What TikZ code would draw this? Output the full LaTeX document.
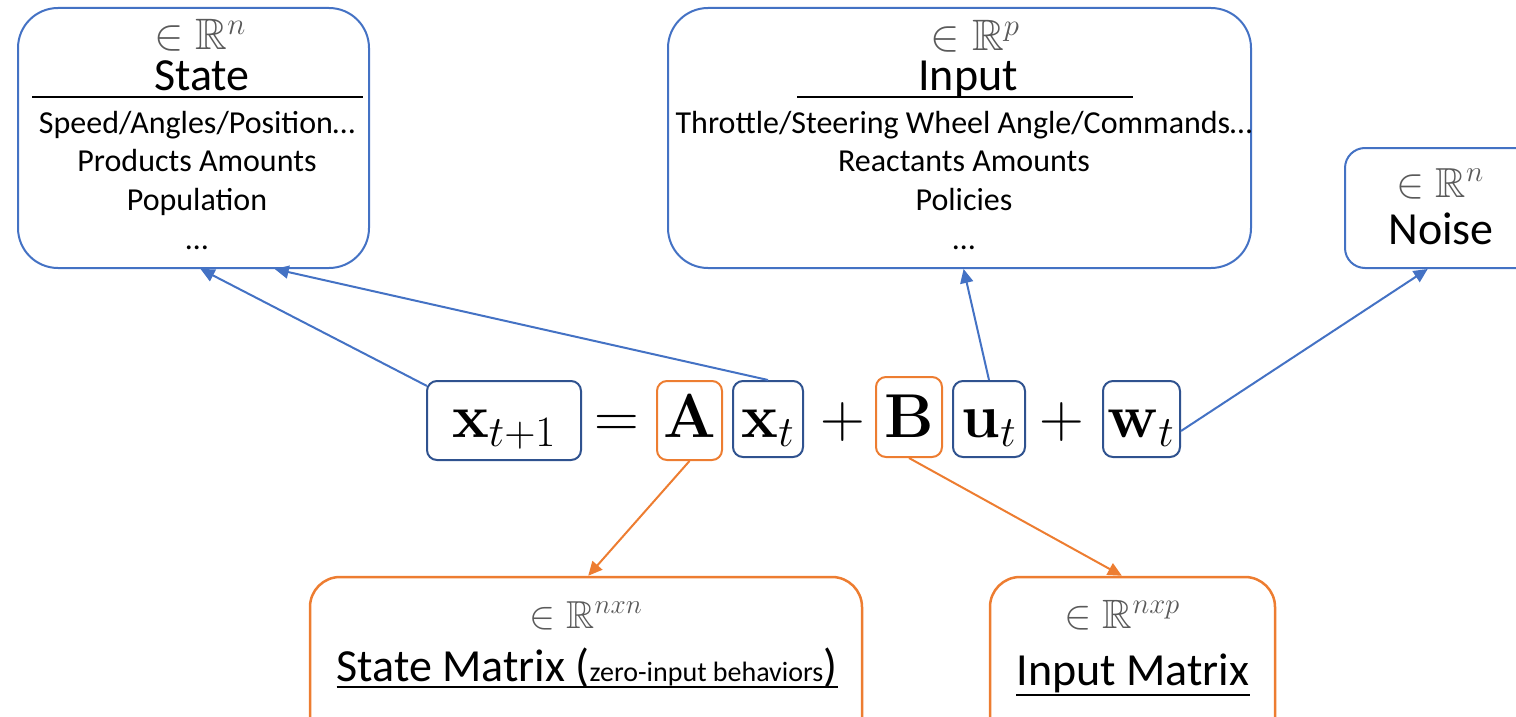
\RequirePackage{fix-cm}
\documentclass[tikz,border=0pt]{standalone}
\usepackage{amssymb}
\usepackage[no-math]{fontspec}
\setmainfont{Carlito}
\usetikzlibrary{arrows.meta,calc}

\definecolor{boxblue}{HTML}{4472C4}
\definecolor{eqblue}{HTML}{2F528F}
\definecolor{boxorange}{HTML}{ED7D31}
\definecolor{setgray}{HTML}{5A5A5A}

\newcommand\myheadfont{\fontsize{46}{55}\selectfont}
\newcommand\mybodyfont{\fontsize{32}{39}\selectfont}
\newcommand\mynotefont{\fontsize{28}{34}\selectfont}
\newcommand\myeqfont{\fontsize{62}{74}\selectfont}
% size of the "in R^k" labels
\newcommand\mysetsize[1]{\fontsize{#1}{#1}\selectfont}

\begin{document}
\begin{tikzpicture}[x=1pt,y=-1pt,
  bigbox/.style={draw=boxblue, line width=2, rounded corners=40, inner sep=0},
  orangebox/.style={draw=boxorange, line width=2.5, rounded corners=30, inner sep=0},
  ebox/.style={draw=eqblue, line width=2, rounded corners=10, inner sep=0},
  obox/.style={draw=boxorange, line width=2, rounded corners=10, inner sep=0},
  txt/.style={inner sep=0, anchor=base},
  settxt/.style={inner sep=0, anchor=base, text=setgray},
  eqtxt/.style={inner sep=0, anchor=base, font=\myeqfont},
  bluearrow/.style={draw=boxblue, line width=2, -{Triangle[length=14pt,width=13pt]}},
  orangearrow/.style={draw=boxorange, line width=2, -{Triangle[length=14pt,width=13pt]}},
  rule/.style={line width=2.5}
]
\useasboundingbox (0,0) rectangle (1516,717);
\clip (0,0) rectangle (1516,717);

% ---------- State ----------
\node[bigbox, minimum width=351, minimum height=260] (state) at (193.5,138) {};
\node[settxt, font=\mysetsize{44}] (stateset) at (200,50) {$\in\mathbb{R}^{n}$};
\node[txt, font=\myheadfont] (statehead) at (202,90) {State};
\draw[rule] (32,97) -- (363,97);
\node[txt, font=\mybodyfont] (s1) at (197,133) {Speed/Angles/Position…};
\node[txt, font=\mybodyfont] (s2) at (197,171) {Products Amounts};
\node[txt, font=\mybodyfont] (s3) at (197,210) {Population};
\node[txt, font=\mybodyfont] (s4) at (197,249) {…};

% ---------- Input ----------
\node[bigbox, minimum width=583, minimum height=260] (input) at (959.5,138) {};
\node[settxt, font=\mysetsize{44}] (inputset) at (975,51) {$\in\mathbb{R}^{p}$};
\node[txt, font=\myheadfont] (inputhead) at (968,90) {Input};
\draw[rule] (797,97) -- (1133,97);
\node[txt, font=\mybodyfont] (i1) at (964,133) {Throttle/Steering Wheel Angle/Commands…};
\node[txt, font=\mybodyfont] (i2) at (964,171) {Reactants Amounts};
\node[txt, font=\mybodyfont] (i3) at (964,210) {Policies};
\node[txt, font=\mybodyfont] (i4) at (964,249) {…};

% ---------- Noise ----------
\node[bigbox, rounded corners=20, minimum width=220, minimum height=120] (noise) at (1455,208) {};
\node[settxt, font=\mysetsize{42}] (noiseset) at (1440,197) {$\in\mathbb{R}^{n}$};
\node[txt, font=\myheadfont] (noisehead) at (1441,244) {Noise};

% ---------- Matrices ----------
\node[orangebox, minimum width=552, minimum height=170] (smat) at (586,662) {};
\node[settxt, font=\mysetsize{39}] (smatset) at (586,628) {$\in\mathbb{R}^{nxn}$};
\node[txt, font=\myheadfont] (smtext) at (587,681) {State Matrix (\mynotefont zero-input behaviors\myheadfont)};
\draw[rule] ($(smtext.base west)+(0,6)$) -- ($(smtext.base east)+(0,6)$);

\node[orangebox, minimum width=285, minimum height=170] (imat) at (1132.5,662) {};
\node[settxt, font=\mysetsize{41}] (imatset) at (1122,628) {$\in\mathbb{R}^{nxp}$};
\node[txt, font=\myheadfont] (imtext) at (1133,685) {Input Matrix};
\draw[rule] ($(imtext.base west)+(0,10)$) -- ($(imtext.base east)+(0,10)$);

% ---------- Equation ----------
\node[ebox, minimum width=154, minimum height=79] (xt1) at (504,420.5) {};
\node[obox, minimum width=65, minimum height=79] (A) at (689.5,420.5) {};
\node[ebox, minimum width=70, minimum height=76] (xt) at (768,419) {};
\node[obox, minimum width=66, minimum height=80] (B) at (909,417) {};
\node[ebox, minimum width=72, minimum height=76] (ut) at (989,419) {};
\node[ebox, minimum width=77, minimum height=76] (wt) at (1141.5,419) {};

\node[eqtxt] (e1) at (504,437) {$\mathbf{x}_{t+1}$};
\node[eqtxt] (e2) at (617,437) {$=$};
\node[eqtxt] (e3) at (689.5,437) {$\mathbf{A}$};
\node[eqtxt] (e4) at (768,437) {$\mathbf{x}_t$};
\node[eqtxt] (e5) at (843,437) {$+$};
\node[eqtxt] (e6) at (909,437) {$\mathbf{B}$};
\node[eqtxt] (e7) at (989,437) {$\mathbf{u}_t$};
\node[eqtxt] (e8) at (1062,437) {$+$};
\node[eqtxt] (e9) at (1141,437) {$\mathbf{w}_t$};

% ---------- Connectors ----------
\draw[bluearrow] ($(xt1.north west)+(1,6)$) -- ($(state.south west)!0.52!(state.south east)$);
\draw[bluearrow] (xt.north) -- ($(state.south west)!0.73!(state.south east)$);
\draw[bluearrow] (ut.north) -- ($(input.south west)!0.507!(input.south east)$);
\draw[bluearrow] ($(wt.east)+(0,12)$) -- ($(noise.south west)!0.377!(noise.south east)$);
\draw[orangearrow] (A.south) -- ($(smat.north west)!0.504!(smat.north east)$);
\draw[orangearrow] (B.south) -- ($(imat.north west)!0.463!(imat.north east)$);
\end{tikzpicture}
\end{document}
